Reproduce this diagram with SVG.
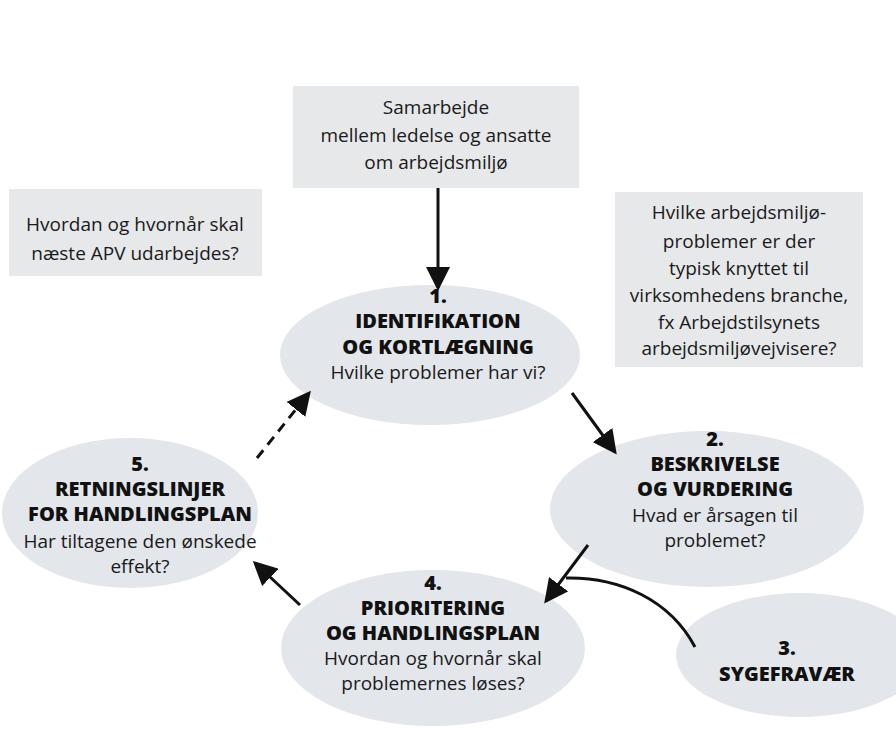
<svg xmlns="http://www.w3.org/2000/svg" width="896" height="729" viewBox="0 0 896 729">
<defs>
<style>
.box{fill:#e6e8ea}
.ell{fill:#e3e6ea}
.t{font-family:"Open Sans","Noto Sans",sans-serif;font-size:19px;fill:#1a1a1a;text-anchor:middle}
.b{font-family:"Open Sans","Noto Sans",sans-serif;font-size:20px;font-weight:800;fill:#111;text-anchor:middle}
.c{stroke:#111;stroke-width:3;fill:none}
</style>
<marker id="ah" markerWidth="8" markerHeight="8" refX="7" refY="4" orient="auto" markerUnits="strokeWidth">
<path d="M0,0 L8,4 L0,8 Z" fill="#111"/>
</marker>
</defs>
<rect width="896" height="729" fill="#fff"/>
<g id="box-top">
<rect class="box" x="293" y="86" width="286" height="102"/>
<text class="t" x="436" y="114">Samarbejde</text>
<text class="t" x="436" y="142">mellem ledelse og ansatte</text>
<text class="t" x="436" y="169">om arbejdsmiljø</text>
</g>
<g id="box-left">
<rect class="box" x="9" y="189" width="253" height="87"/>
<text class="t" x="135" y="231">Hvordan og hvornår skal</text>
<text class="t" x="135" y="260">næste APV udarbejdes?</text>
</g>
<g id="box-right">
<rect class="box" x="615" y="192" width="248" height="175"/>
<text class="t" x="739" y="219">Hvilke arbejdsmiljø-</text>
<text class="t" x="739" y="248">problemer er der</text>
<text class="t" x="739" y="275">typisk knyttet til</text>
<text class="t" x="739" y="302">virksomhedens branche,</text>
<text class="t" x="739" y="329">fx Arbejdstilsynets</text>
<text class="t" x="739" y="355">arbejdsmiljøvejvisere?</text>
</g>
<g id="node1">
<ellipse class="ell" cx="430" cy="355" rx="150" ry="70"/>
<text class="b" x="438" y="303"><tspan x="438">1.</tspan><tspan x="438" dy="25">IDENTIFIKATION</tspan><tspan x="438" dy="26">OG KORTLÆGNING</tspan></text>
<text class="t" x="438" y="379">Hvilke problemer har vi?</text>
</g>
<g id="node2">
<ellipse class="ell" cx="707" cy="509" rx="157" ry="78"/>
<text class="b" x="715" y="446"><tspan x="715">2.</tspan><tspan x="715" dy="25">BESKRIVELSE</tspan><tspan x="715" dy="25">OG VURDERING</tspan></text>
<text class="t" x="715" y="522">Hvad er årsagen til</text>
<text class="t" x="715" y="547">problemet?</text>
</g>
<g id="node3">
<ellipse class="ell" cx="800" cy="655" rx="124" ry="62"/>
<text class="b" x="787" y="655"><tspan x="787">3.</tspan><tspan x="787" dy="26">SYGEFRAVÆR</tspan></text>
</g>
<g id="node4">
<ellipse class="ell" cx="433" cy="648" rx="152" ry="78"/>
<text class="b" x="433" y="590"><tspan x="433">4.</tspan><tspan x="433" dy="25">PRIORITERING</tspan><tspan x="433" dy="25">OG HANDLINGSPLAN</tspan></text>
<text class="t" x="433" y="665">Hvordan og hvornår skal</text>
<text class="t" x="433" y="690">problemernes løses?</text>
</g>
<g id="node5">
<ellipse class="ell" cx="130" cy="513" rx="128" ry="75"/>
<text class="b" x="140" y="471"><tspan x="140">5.</tspan><tspan x="140" dy="25">RETNINGSLINJER</tspan><tspan x="140" dy="25">FOR HANDLINGSPLAN</tspan></text>
<text class="t" x="140" y="548">Har tiltagene den ønskede</text>
<text class="t" x="140" y="573">effekt?</text>
</g>
<g id="connectors">
<line class="c" x1="438" y1="188" x2="438" y2="288" marker-end="url(#ah)"/>
<line class="c" x1="572" y1="393" x2="615" y2="452" marker-end="url(#ah)"/>
<line class="c" x1="588" y1="545" x2="546" y2="601" marker-end="url(#ah)"/>
<path class="c" d="M695,647 C670,600 620,577 566,578"/>
<line class="c" x1="300" y1="605" x2="255" y2="563" marker-end="url(#ah)"/>
<line class="c" x1="257" y1="458" x2="309" y2="393" stroke-dasharray="10,7" marker-end="url(#ah)"/>
</g>
</svg>
